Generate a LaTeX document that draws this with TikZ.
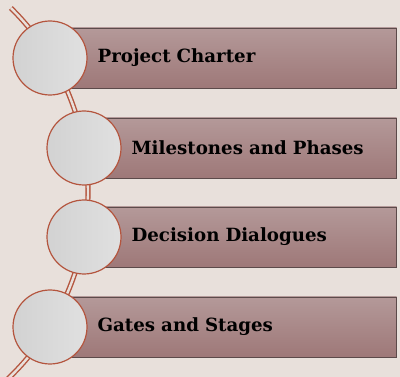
\documentclass[tikz,border=0pt]{standalone}
\usepackage{fontspec}
\newfontfamily\barfont{DejaVu Serif}
\definecolor{bgcolor}{HTML}{E8E0DB}
\definecolor{rim}{HTML}{B4553E}
\definecolor{barline}{HTML}{5C4A4A}
\definecolor{bartop}{HTML}{B49999}
\definecolor{barbottom}{HTML}{9E7878}
\definecolor{discleft}{HTML}{D2D2D2}
\definecolor{discright}{HTML}{E0E0E0}
\begin{document}
\begin{tikzpicture}[x=1pt,y=-1pt]

	%DEFINITIONS
	\tikzstyle{every node}=[font=\barfont\bfseries\fontsize{18.2}{22}\selectfont]
	\tikzstyle{bar} = [draw=barline, line width=0.8pt, top color=bartop, bottom color=barbottom, minimum height=60pt, anchor=east, align=left, inner xsep=28pt]
	\tikzstyle{disc} = [circle, draw=rim, line width=1.2pt, left color=discleft, right color=discright, minimum size=74pt, inner sep=0pt]
	\tikzstyle{spine} = [draw=rim, line width=1.4pt, double=bgcolor, double distance=2.4pt]

	%BACKGROUND
	\fill[bgcolor] (0,0) rectangle (400,377);
	\useasboundingbox (0,0) rectangle (400,377);

	%SPINE
	\begin{scope}
	\clip (0,0) rectangle (400,377);
	\draw[spine] (-170,192) ++(-45.5:258) arc[start angle=-45.5, end angle=47, radius=258];
	\end{scope}

	%BARS
	\draw(397,58) node[bar, text width=271pt](bar1){Project Charter};
	\draw(397,148) node[bar, text width=237pt](bar2){Milestones and Phases};
	\draw(397,237) node[bar, text width=237pt](bar3){Decision Dialogues};
	\draw(397,327) node[bar, text width=271pt](bar4){Gates and Stages};

	%CIRCLES
	\draw(50,58) node[disc](circ1){};
	\draw(84,148) node[disc](circ2){};
	\draw(84,237) node[disc](circ3){};
	\draw(50,327) node[disc](circ4){};
\end{tikzpicture}
\end{document}
